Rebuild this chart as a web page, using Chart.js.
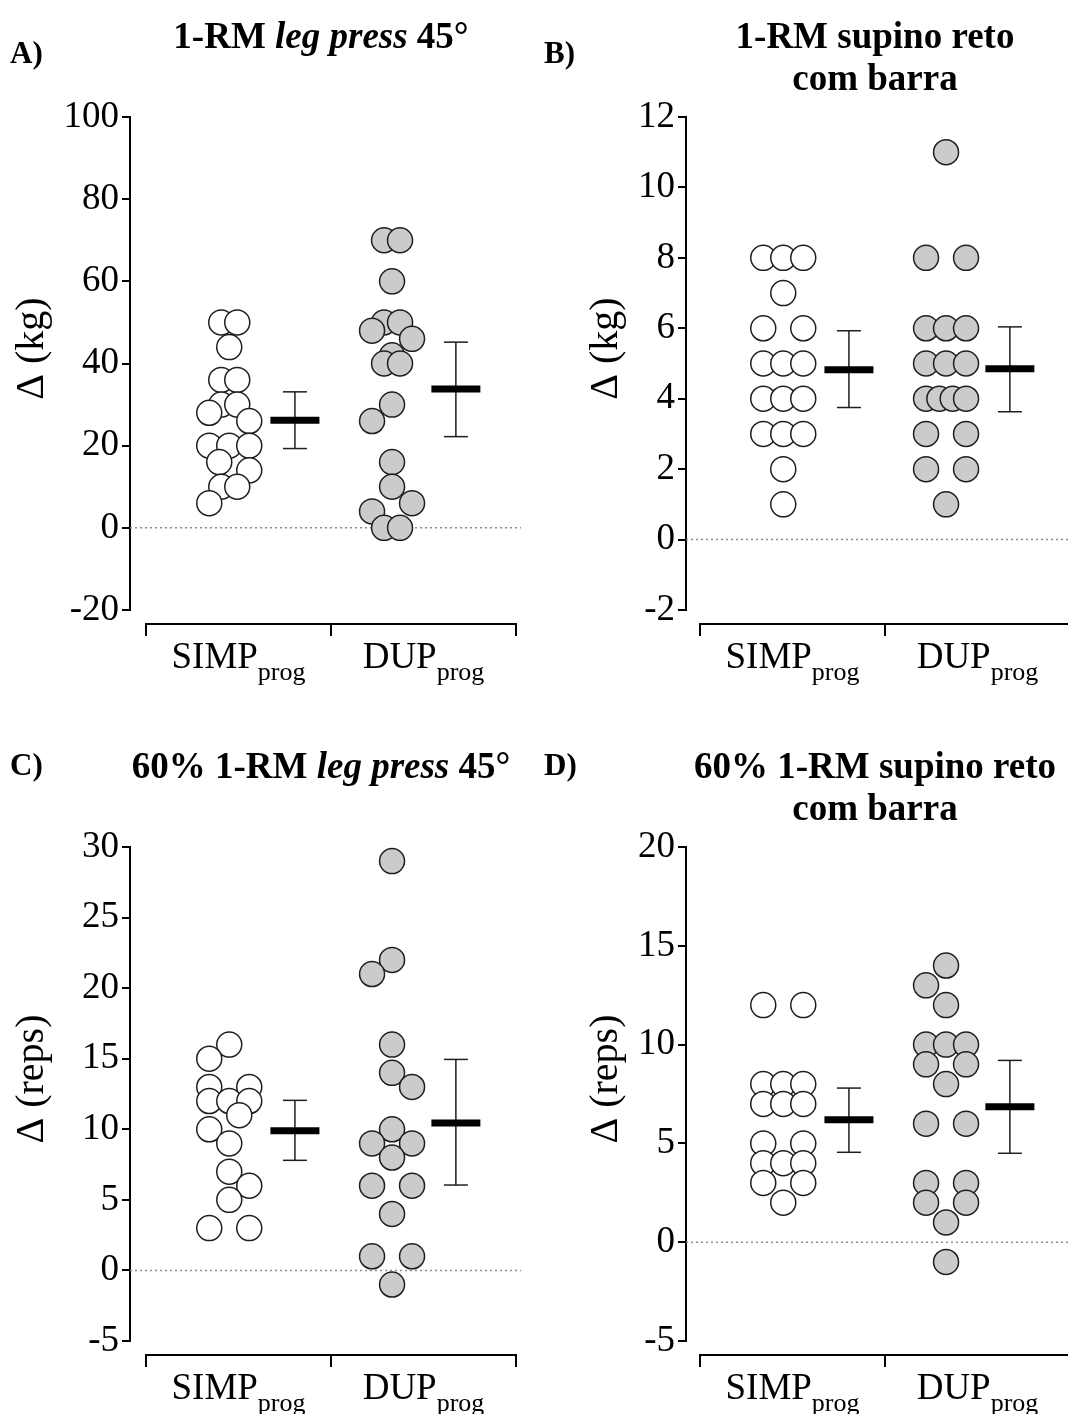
<!DOCTYPE html>
<html>
<head>
<meta charset="utf-8">
<script src="https://cdn.jsdelivr.net/npm/chart.js@4.4.0/dist/chart.umd.min.js"></script>
<style>
  body { margin: 0; background: #fff; }
  #wrap { position: relative; width: 1068px; height: 1414px; overflow: hidden; }
  #wrap canvas { position: absolute; }
</style>
</head>
<body>
<div id="wrap">
  <canvas id="chartA" width="534" height="707" style="left:0;top:0"></canvas>
  <canvas id="chartB" width="534" height="707" style="left:534px;top:0"></canvas>
  <canvas id="chartC" width="534" height="707" style="left:0;top:707px"></canvas>
  <canvas id="chartD" width="534" height="707" style="left:534px;top:707px"></canvas>
</div>
<script>
// --- DATA ---
const groupNames = ['SIMP', 'DUP'];
const groupSub = 'prog';

// A) 1-RM leg press 45° (kg)
const legPressSimp = [50, 50, 44, 36, 36, 30, 30, 28, 26, 20, 20, 20, 16, 14, 10, 10, 6];
const legPressDup = [70, 70, 60, 50, 50, 48, 46, 42, 40, 40, 30, 26, 16, 10, 6, 4, 0, 0];
const legPressMean = [26.2, 33.8];
const legPressLow = [19.3, 22.2];
const legPressHigh = [33.1, 45.2];
const legPressTicks = [-20, 0, 20, 40, 60, 80, 100];

// B) 1-RM supino reto com barra (kg)
const benchSimp = [8, 8, 8, 7, 6, 6, 5, 5, 5, 4, 4, 4, 3, 3, 3, 2, 1];
const benchDup = [11, 8, 8, 6, 6, 6, 5, 5, 5, 4, 4, 4, 4, 3, 3, 2, 2, 1];
const benchMean = [4.82, 4.85];
const benchLow = [3.75, 3.63];
const benchHigh = [5.93, 6.04];
const benchTicks = [-2, 0, 2, 4, 6, 8, 10, 12];

// C) 60% 1-RM leg press 45° (reps)
const legRepsSimp = [16, 15, 13, 13, 12, 12, 12, 11, 10, 9, 7, 6, 5, 3, 3];
const legRepsDup = [29, 22, 21, 16, 14, 13, 10, 9, 9, 8, 6, 6, 4, 1, 1, -1];
const legRepsMean = [9.9, 10.45];
const legRepsLow = [7.8, 6.05];
const legRepsHigh = [12.05, 14.95];
const legRepsTicks = [-5, 0, 5, 10, 15, 20, 25, 30];

// D) 60% 1-RM supino reto com barra (reps)
const benchRepsSimp = [12, 12, 8, 8, 8, 7, 7, 7, 5, 5, 4, 4, 4, 3, 3, 2];
const benchRepsDup = [14, 13, 12, 10, 10, 10, 9, 9, 8, 6, 6, 3, 3, 2, 2, 1, -1];
const benchRepsMean = [6.2, 6.85];
const benchRepsLow = [4.55, 4.5];
const benchRepsHigh = [7.8, 9.2];
const benchRepsTicks = [-5, 0, 5, 10, 15, 20];

// --- LAYOUT ---
const FONT = "'Liberation Serif', 'Times New Roman', serif";
const UNIT = 185;                 // px per category on x
const POINT_X = [0.45, 1.33];     // column of dots
const MEAN_X = [0.805, 1.675];    // mean + CI marker
const cols = [
    { x0: 146, areaLeft: 130, areaRight: 521, yLabelX: 32 },
    { x0: 166, areaLeft: 152, areaRight: 534, yLabelX: 72 }
];
const rows = [
    { top: 117, bottom: 610, titleY: 48, letterY: 63 },
    { top: 140, bottom: 634, titleY: 71, letterY: 68 }
];

const panels = [
    { id: 'chartA', col: 0, row: 0, letter: 'A)', yLabel: 'Δ (kg)',
      title: [[['1-RM ', false], ['leg press', true], [' 45°', false]]],
      simp: legPressSimp, dup: legPressDup, mean: legPressMean, low: legPressLow, high: legPressHigh, ticks: legPressTicks },
    { id: 'chartB', col: 1, row: 0, letter: 'B)', yLabel: 'Δ (kg)',
      title: [[['1-RM supino reto', false]], [['com barra', false]]],
      simp: benchSimp, dup: benchDup, mean: benchMean, low: benchLow, high: benchHigh, ticks: benchTicks },
    { id: 'chartC', col: 0, row: 1, letter: 'C)', yLabel: 'Δ (reps)',
      title: [[['60% 1-RM ', false], ['leg press', true], [' 45°', false]]],
      simp: legRepsSimp, dup: legRepsDup, mean: legRepsMean, low: legRepsLow, high: legRepsHigh, ticks: legRepsTicks },
    { id: 'chartD', col: 1, row: 1, letter: 'D)', yLabel: 'Δ (reps)',
      title: [[['60% 1-RM supino reto', false]], [['com barra', false]]],
      simp: benchRepsSimp, dup: benchRepsDup, mean: benchRepsMean, low: benchRepsLow, high: benchRepsHigh, ticks: benchRepsTicks }
];

// --- HELPERS ---
// simple column-scatter spreading, in pixels
function swarmOffsets(values, ypp) {
    const MIN_GAP = 22;
    const half = ypp < 10 ? 8 : 20;   // tighter rows when the scale is packed
    const order = values.map((v, i) => i).sort((a, b) => values[b] - values[a]);
    const placed = [];
    const out = new Array(values.length).fill(0);
    let flip = false;
    let k = 0;
    while (k < order.length) {
        let j = k;
        while (j < order.length && values[order[j]] === values[order[k]]) j++;
        const n = j - k;
        const py = values[order[k]] * ypp;
        if (n === 1) {
            const cands = flip ? [0, 20, -20, 10, -10] : [0, -20, 20, -10, 10];
            let best = 0, bestD = -1;
            for (const c of cands) {
                let d = Infinity;
                placed.forEach(p => { d = Math.min(d, Math.hypot(p.dx - c, p.py - py)); });
                if (d >= MIN_GAP) { best = c; bestD = d; break; }
                if (d > bestD) { bestD = d; best = c; }
            }
            if (best !== 0) flip = !flip;
            out[order[k]] = best;
            placed.push({ dx: best, py });
        } else {
            const w = n > 2 ? 20 : half;
            for (let m = 0; m < n; m++) {
                const dx = -w + 2 * w * m / (n - 1);
                out[order[k + m]] = dx;
                placed.push({ dx, py });
            }
        }
        k = j;
    }
    return out;
}

function drawSegments(ctx, segs, cx, y, size, bold) {
    const fonts = segs.map(s => `${s[1] ? 'italic ' : ''}${bold ? 'bold ' : ''}${size}px ${FONT}`);
    let w = 0;
    segs.forEach((s, i) => { ctx.font = fonts[i]; w += ctx.measureText(s[0]).width; });
    let x = cx - w / 2;
    ctx.textAlign = 'left';
    ctx.textBaseline = 'alphabetic';
    segs.forEach((s, i) => {
        ctx.font = fonts[i];
        ctx.fillText(s[0], x, y);
        x += ctx.measureText(s[0]).width;
    });
}

function decorPlugin(p) {
    const col = cols[p.col], row = rows[p.row];
    return {
        id: 'decor',
        afterDraw(chart) {
            const ctx = chart.ctx;
            const xs = chart.scales.x;
            const area = chart.chartArea;
            ctx.save();
            ctx.fillStyle = '#000';
            ctx.strokeStyle = '#000';

            // panel letter + title
            ctx.font = `bold 31px ${FONT}`;
            ctx.textAlign = 'left';
            ctx.textBaseline = 'alphabetic';
            ctx.fillText(p.letter, 10, row.letterY);
            const tx = (xs.getPixelForValue(0) + xs.getPixelForValue(2)) / 2 - 10;
            p.title.forEach((line, i) => drawSegments(ctx, line, tx, row.titleY + i * 42, 37, true));

            // y label
            ctx.save();
            ctx.translate(col.yLabelX, (area.top + area.bottom) / 2 - 15);
            ctx.rotate(-Math.PI / 2);
            ctx.font = `40px ${FONT}`;
            ctx.textAlign = 'center';
            ctx.textBaseline = 'middle';
            ctx.fillText(p.yLabel, 0, 0);
            ctx.restore();

            // category bracket
            const by = area.bottom + 14;
            const xa = xs.getPixelForValue(0), xm = xs.getPixelForValue(1), xb = xs.getPixelForValue(2);
            ctx.lineWidth = 2;
            ctx.beginPath();
            ctx.moveTo(xa, by + 12); ctx.lineTo(xa, by); ctx.lineTo(xb, by); ctx.lineTo(xb, by + 12);
            ctx.moveTo(xm, by); ctx.lineTo(xm, by + 12);
            ctx.stroke();

            groupNames.forEach((name, i) => {
                const cx = xs.getPixelForValue(i + 0.5);
                ctx.font = `37px ${FONT}`;
                const w1 = ctx.measureText(name).width;
                ctx.font = `26px ${FONT}`;
                const w2 = ctx.measureText(groupSub).width;
                const x = cx - (w1 + w2) / 2;
                ctx.textAlign = 'left';
                ctx.font = `37px ${FONT}`;
                ctx.fillText(name, x, by + 44);
                ctx.font = `26px ${FONT}`;
                ctx.fillText(groupSub, x + w1, by + 56);
            });
            ctx.restore();
        }
    };
}

function buildChart(p) {
    const col = cols[p.col], row = rows[p.row];
    const xMin = (col.areaLeft - col.x0) / UNIT;
    const xMax = (col.areaRight - col.x0) / UNIT;
    const yMin = p.ticks[0], yMax = p.ticks[p.ticks.length - 1];
    const dotStyle = { borderColor: '#1e1e1e', borderWidth: 1.5, pointRadius: 12.5, order: 1 };

    const chart = new Chart(document.getElementById(p.id), {
        type: 'scatter',
        data: {
            datasets: [
                { type: 'line', data: [{ x: xMin, y: 0 }, { x: xMax, y: 0 }], borderColor: '#8c8c8c',
                  borderWidth: 1.5, borderDash: [2, 3], pointRadius: 0, order: 9 },
                { ...dotStyle, data: p.simp.map(v => ({ x: POINT_X[0], y: v })), backgroundColor: '#ffffff' },
                { ...dotStyle, data: p.dup.map(v => ({ x: POINT_X[1], y: v })), backgroundColor: '#cbcbcb' },
                ...[0, 1].map(i => ({
                    type: 'line', data: [{ x: MEAN_X[i], y: p.low[i] }, { x: MEAN_X[i], y: p.high[i] }],
                    borderColor: '#1e1e1e', borderWidth: 1.5, pointRadius: 0, order: 3
                })),
                { data: [0, 1].flatMap(i => [{ x: MEAN_X[i], y: p.low[i] }, { x: MEAN_X[i], y: p.high[i] }]),
                  pointStyle: 'line', pointRadius: 12, borderColor: '#1e1e1e', borderWidth: 1.5, order: 3 },
                { data: [0, 1].map(i => ({ x: MEAN_X[i], y: p.mean[i] })),
                  pointStyle: 'line', pointRadius: 24.5, borderColor: '#000', borderWidth: 7, order: 2 }
            ]
        },
        options: {
            responsive: false,
            animation: false,
            events: [],
            layout: { autoPadding: false,
                      padding: { left: 0, right: 534 - col.areaRight, top: row.top, bottom: 707 - row.bottom } },
            plugins: { legend: { display: false }, tooltip: { enabled: false } },
            scales: {
                x: { type: 'linear', display: false, min: xMin, max: xMax },
                y: {
                    min: yMin, max: yMax,
                    afterFit: s => { s.width = col.areaLeft; },
                    ticks: { stepSize: p.ticks[1] - p.ticks[0], color: '#000', padding: 3,
                             font: { family: FONT, size: 37 } },
                    grid: { drawOnChartArea: false, drawTicks: true, tickLength: 8, color: '#000', lineWidth: 2 },
                    border: { display: true, color: '#000', width: 2 }
                }
            }
        },
        plugins: [decorPlugin(p)]
    });

    // spread the dots sideways now that the scales exist
    const ys = chart.scales.y, xs = chart.scales.x;
    const ypp = Math.abs(ys.getPixelForValue(1) - ys.getPixelForValue(0));
    const xpp = xs.getPixelForValue(1) - xs.getPixelForValue(0);
    [p.simp, p.dup].forEach((vals, g) => {
        const off = swarmOffsets(vals, ypp);
        chart.data.datasets[g + 1].data = vals.map((v, i) => ({ x: POINT_X[g] + off[i] / xpp, y: v }));
    });
    chart.update('none');
    return chart;
}

panels.forEach(buildChart);
</script>
</body>
</html>
